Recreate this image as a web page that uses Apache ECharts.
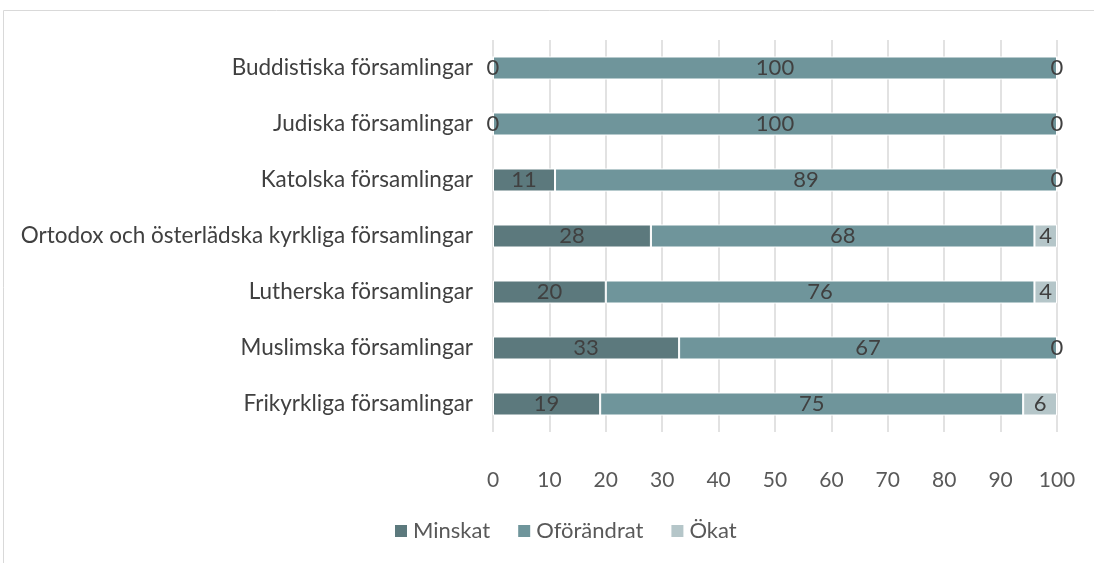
<!DOCTYPE html>
<html><head><meta charset="utf-8">
<script src="https://cdn.jsdelivr.net/npm/echarts@6/dist/echarts.min.js"></script>
<style>html,body{margin:0;padding:0;background:#fff}#c{width:1094px;height:563px}</style>
</head><body><div id="c"></div>
<script>
const categories = ["Frikyrkliga församlingar","Muslimska församlingar","Lutherska församlingar","Ortodox och österlädska kyrkliga församlingar","Katolska församlingar","Judiska församlingar","Buddistiska församlingar"];
const minskat = [19,33,20,28,11,0,0];
const oforandrat = [75,67,76,68,89,100,100];
const okat = [6,0,4,4,0,0,0];
const xTicks = [0,10,20,30,40,50,60,70,80,90,100];
const font = "Lato, 'Open Sans', sans-serif";
const lbl = {show:true, position:'inside', color:'#404040', fontSize:22, fontFamily:font};
const chart = echarts.init(document.getElementById('c'));
chart.setOption({
  animation:false,
  graphic:[{type:'rect', shape:{x:3.5,y:10.5,width:1200,height:700}, style:{fill:'none',stroke:'#d9d9d9',lineWidth:1}, silent:true}],
  grid:{left:493,right:37,top:40,bottom:131},
  legend:{bottom:16,left:388,itemWidth:14,itemHeight:14,itemGap:26,icon:'rect',textStyle:{color:'#595959',fontSize:22,fontFamily:font},data:['Minskat','Oförändrat','Ökat']},
  xAxis:{type:'value',min:0,max:100,interval:10,axisLine:{show:false},axisTick:{show:false},
    splitLine:{lineStyle:{color:'#d9d9d9',width:1.5}},
    axisLabel:{color:'#595959',fontSize:21,fontFamily:font,margin:38,formatter:v=>xTicks.includes(v)?String(v):''}},
  yAxis:{type:'category',data:categories,axisLine:{show:false},axisTick:{show:false},
    axisLabel:{color:'#404040',fontSize:22.5,fontFamily:font,margin:20}},
  series:[
    {name:'Minskat',type:'bar',stack:'s',data:minskat,barWidth:23,itemStyle:{color:'#5c797d',borderColor:'#fff',borderWidth:1},label:lbl},
    {name:'Oförändrat',type:'bar',stack:'s',data:oforandrat,barWidth:23,itemStyle:{color:'#6f959b',borderColor:'#fff',borderWidth:1},label:lbl},
    {name:'Ökat',type:'bar',stack:'s',data:okat,barWidth:23,itemStyle:{color:'#b5c6c9',borderColor:'#fff',borderWidth:1},label:lbl}
  ]
});
</script></body></html>
